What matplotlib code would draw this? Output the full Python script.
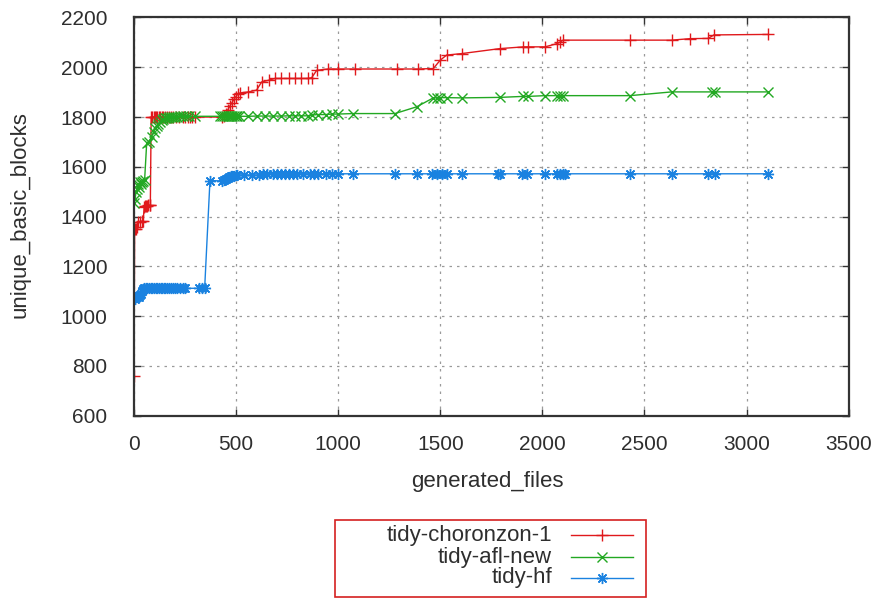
import matplotlib
matplotlib.use("Agg")
import matplotlib.pyplot as plt
from matplotlib.lines import Line2D
from matplotlib.patches import Rectangle

# ---------------- data ----------------
red_x = [0, 3, 8, 15, 22, 30, 38, 45, 50, 55, 60, 65, 70, 76, 80, 84, 90, 96, 102, 108,
         114, 120, 128, 136, 144, 152, 160, 170, 180, 192, 205, 220, 240, 252, 262, 272,
         285, 300, 430, 440, 450, 460, 470, 480, 490, 498, 508, 520, 560, 600, 625, 660,
         690, 720, 760, 790, 820, 850, 870, 895, 950, 1000, 1080, 1290, 1392, 1466, 1499,
         1531, 1605, 1792, 1907, 1931, 2013, 2072, 2088, 2102, 2429, 2633, 2723, 2812,
         2840, 3106]
red_y = [760, 1352, 1352, 1360, 1378, 1380, 1382, 1384, 1440, 1442, 1442, 1442, 1445,
         1445, 1445, 1800, 1800, 1800, 1800, 1800, 1800, 1800, 1800, 1800, 1800, 1800,
         1800, 1800, 1800, 1800, 1800, 1800, 1800, 1800, 1800, 1800, 1800, 1800, 1800,
         1803, 1812, 1830, 1845, 1858, 1872, 1881, 1893, 1897, 1901, 1908, 1941, 1948,
         1955, 1955, 1955, 1955, 1955, 1955, 1958, 1988, 1993, 1993, 1993, 1993, 1993,
         1995, 2028, 2049, 2055, 2075, 2082, 2082, 2082, 2095, 2102, 2109, 2109, 2109,
         2115, 2116, 2130, 2132]

green_x = [0, 5, 10, 15, 20, 25, 30, 35, 40, 45, 52, 62, 72, 86, 96, 103, 111, 119,
           127, 135, 143, 150, 158, 165, 172, 180, 190, 200, 212, 225, 240, 255, 270,
           300, 420, 430, 440, 450, 458, 466, 474, 482, 490, 498, 506, 514, 560, 600,
           640, 680, 720, 760, 790, 820, 850, 870, 900, 940, 970, 1000, 1074, 1278,
           1384, 1466, 1482, 1499, 1531, 1605, 1792, 1907, 1931, 2013, 2070, 2085,
           2102, 2429, 2633, 2829, 2846, 3106]
green_y = [1453, 1470, 1500, 1510, 1530, 1520, 1540, 1530, 1540, 1545, 1548, 1694,
           1700, 1721, 1740, 1754, 1765, 1774, 1782, 1790, 1793, 1795, 1797, 1798,
           1799, 1800, 1801, 1802, 1802, 1803, 1803, 1803, 1803, 1803, 1803, 1803,
           1803, 1803, 1803, 1803, 1803, 1803, 1803, 1803, 1803, 1803, 1803, 1804,
           1804, 1804, 1804, 1805, 1805, 1805, 1805, 1808, 1810, 1810, 1812, 1812,
           1814, 1814, 1841, 1877, 1877, 1878, 1878, 1877, 1879, 1883, 1883, 1886,
           1886, 1886, 1886, 1886, 1901, 1901, 1901, 1901]

blue_x = [0, 5, 10, 15, 20, 25, 30, 35, 40, 45, 50, 58, 66, 74, 82, 90, 98, 106, 114,
          122, 130, 138, 146, 154, 162, 170, 180, 190, 200, 212, 225, 240, 250, 318,
          332, 346, 372, 430, 440, 450, 458, 466, 474, 482, 490, 498, 506, 540, 580,
          610, 630, 650, 680, 700, 720, 740, 760, 780, 800, 830, 860, 880, 900, 940,
          970, 1000, 1074, 1278, 1384, 1457, 1482, 1506, 1531, 1605, 1785, 1793,
          1899, 1923, 2013, 2070, 2085, 2100, 2110, 2429, 2633, 2813, 2846, 3106]
blue_y = [1078, 1070, 1078, 1075, 1080, 1078, 1085, 1090, 1100, 1108, 1112, 1112,
          1112, 1112, 1112, 1112, 1112, 1112, 1112, 1112, 1112, 1112, 1112, 1112,
          1112, 1112, 1112, 1112, 1112, 1112, 1112, 1112, 1112, 1112, 1112, 1112,
          1545, 1543, 1548, 1552, 1556, 1560, 1563, 1565, 1565, 1566, 1567, 1567,
          1567, 1567, 1570, 1572, 1572, 1572, 1572, 1572, 1572, 1572, 1572, 1572,
          1572, 1572, 1572, 1572, 1572, 1572, 1572, 1572, 1572, 1572, 1572, 1572,
          1572, 1572, 1572, 1572, 1572, 1572, 1572, 1572, 1572, 1572, 1572, 1572,
          1572, 1572, 1572, 1572]

series_labels = ["tidy-choronzon-1", "tidy-afl-new", "tidy-hf"]
x_ticks = [0, 500, 1000, 1500, 2000, 2500, 3000, 3500]
y_ticks = [600, 800, 1000, 1200, 1400, 1600, 1800, 2000, 2200]

# ---------------- style ----------------
RED = "#e0191c"
GREEN = "#22a822"
BLUE = "#1a82e0"
TXT = "#2e2e2e"
plt.rcParams["font.family"] = ["Liberation Sans", "DejaVu Sans"]

fig = plt.figure(figsize=(8.77, 5.99), dpi=100)
ax = fig.add_axes([0.1528, 0.306, 0.9677 - 0.1528, 0.9708 - 0.306])

star = (8, 2, 0)
styles = [
    (red_x, red_y, RED, "+", 9),
    (green_x, green_y, GREEN, "x", 7),
    (blue_x, blue_y, BLUE, star, 8),
]
for (xs, ys, c, m, ms), lab in zip(styles, series_labels):
    ax.plot(xs, ys, color=c, lw=1.0, marker=m, ms=ms, mew=1.0, label=lab)

ax.set_xlim(0, 3500)
ax.set_ylim(600, 2200)
ax.set_xticks(x_ticks)
ax.set_yticks(y_ticks)
ax.tick_params(direction="in", length=5, width=1.0, top=True, right=True,
               labelsize=15, colors="#333333")
ax.tick_params(axis="y", pad=19)
ax.tick_params(axis="x", pad=14)
for lbl in ax.get_xticklabels() + ax.get_yticklabels():
    lbl.set_color(TXT)
ax.grid(True, color="#9a9a9a", linestyle=(0, (2, 4)), linewidth=0.9)
for sp in ax.spines.values():
    sp.set_linewidth(1.6)
    sp.set_color("#333333")

ax.set_xlabel("generated_files", fontsize=16, color=TXT, va="center", ha="center")
ax.xaxis.set_label_coords(0.494, -0.164)
ax.set_ylabel("unique_basic_blocks", fontsize=16, color=TXT, va="center", ha="center")
ax.yaxis.set_label_coords(-0.1595, 0.504)

# ---------------- manual legend (gnuplot style) ----------------
W, H = 877.0, 599.0
def fx(px):
    return px / W
def fy(py):
    return 1 - py / H

fig.patches.append(Rectangle((fx(335), fy(597)), fx(646) - fx(335), fy(520) - fy(597),
                             transform=fig.transFigure, fill=False,
                             edgecolor="#d42020", lw=1.2))
rows = [535, 557, 578]
for (xs, ys, c, m, ms), lab, ry in zip(styles, series_labels, rows):
    fig.text(fx(552), fy(ry), lab, ha="right", va="center", fontsize=16, color=TXT)
    fig.add_artist(Line2D([fx(571), fx(633)], [fy(ry), fy(ry)], transform=fig.transFigure,
                          color=c, lw=1.0))
    fig.add_artist(Line2D([fx(602)], [fy(ry)], transform=fig.transFigure,
                          color=c, marker=m, ms=ms, mew=1.0, linestyle="none"))

fig.savefig("out.png", dpi=100)
